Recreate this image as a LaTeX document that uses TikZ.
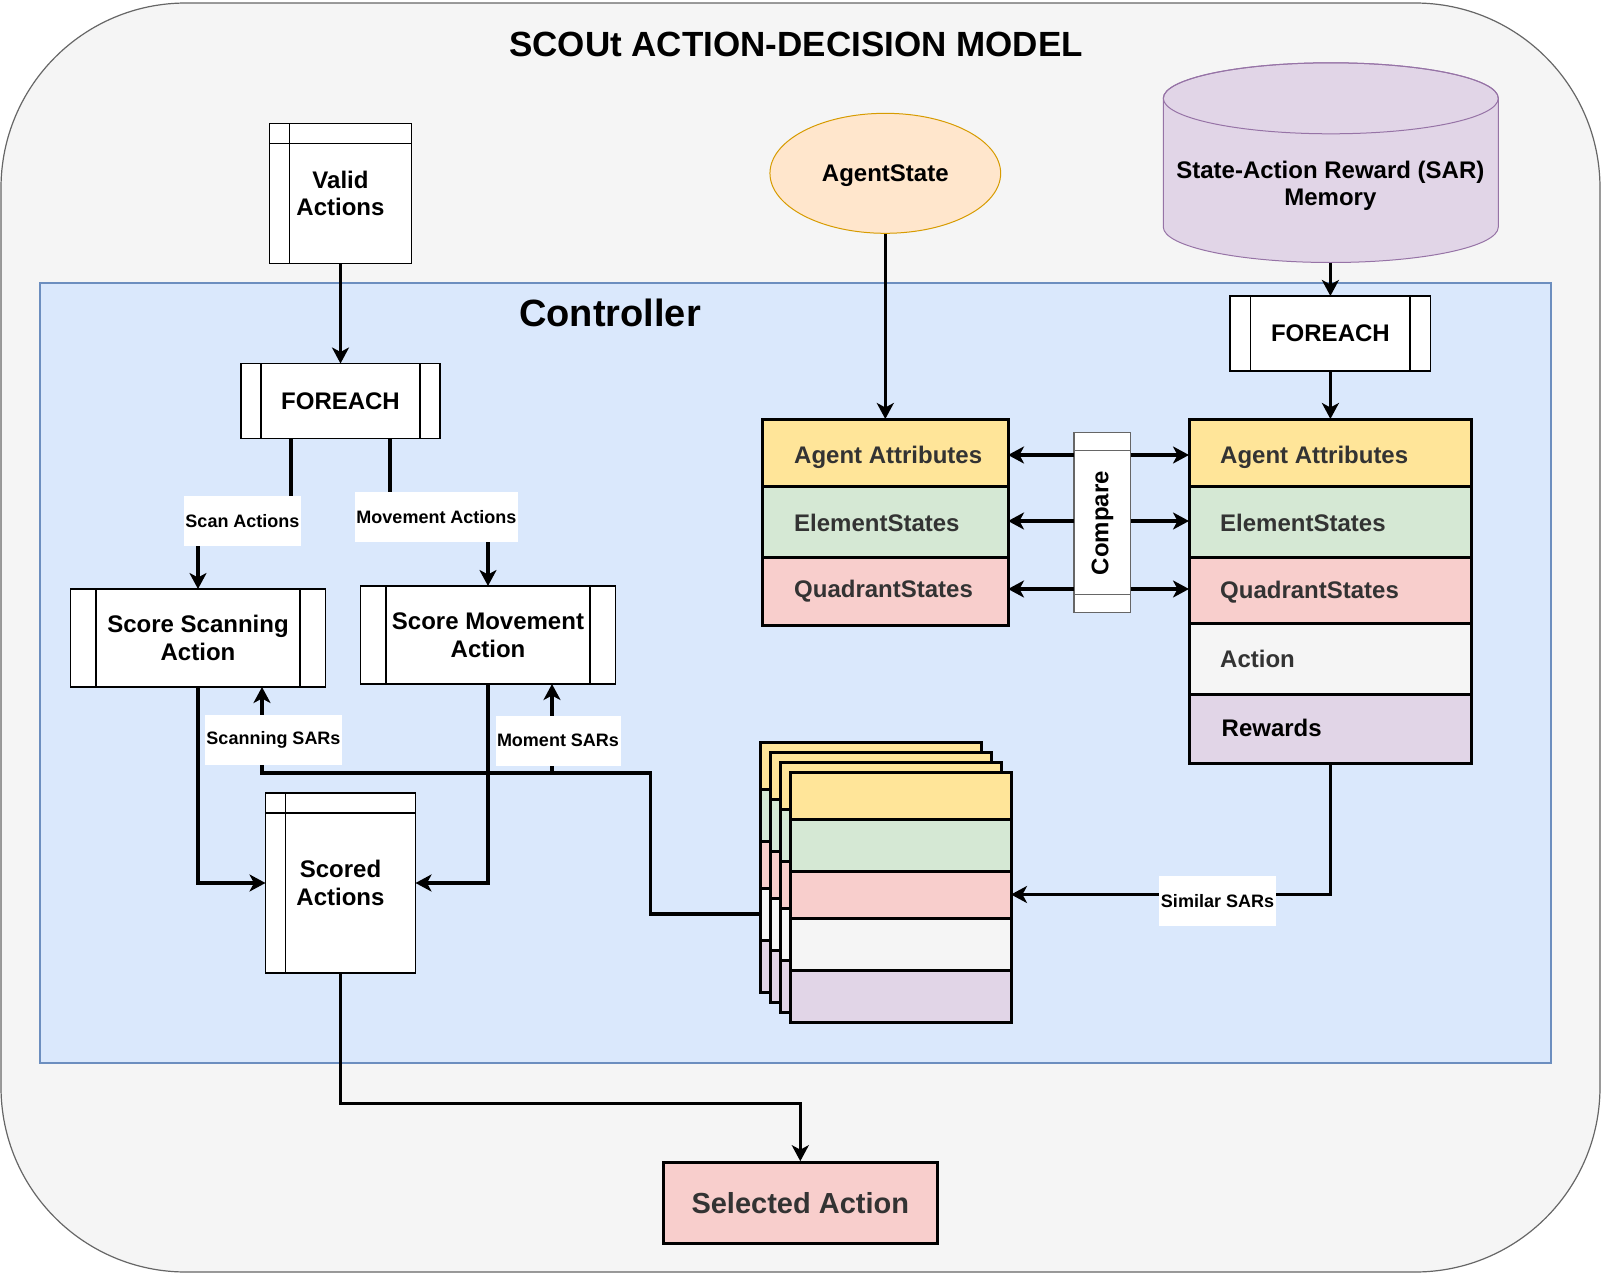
\documentclass[tikz,border=0pt]{standalone}
\usepackage{fontspec}
\setmainfont{Liberation Sans}
\usetikzlibrary{arrows.meta,calc,shapes.geometric}
\definecolor{outerfill}{HTML}{F5F5F5}
\definecolor{outerln}{HTML}{666666}
\definecolor{ctlfill}{HTML}{DAE8FC}
\definecolor{ctlln}{HTML}{6C8EBF}
\definecolor{rowy}{HTML}{FFE599}
\definecolor{rowg}{HTML}{D5E8D4}
\definecolor{rowp}{HTML}{F8CECC}
\definecolor{roww}{HTML}{F5F5F5}
\definecolor{rowv}{HTML}{E1D5E7}
\definecolor{ellfill}{HTML}{FFE6CC}
\definecolor{ellln}{HTML}{D79B00}
\definecolor{cylln}{HTML}{9673A6}
\definecolor{darktxt}{HTML}{333333}
\newcommand\mytxt{\fontsize{24pt}{27.5pt}\selectfont\bfseries}
\newcommand\mylab{\fontsize{18pt}{20pt}\selectfont\bfseries}
\begin{document}
\begin{tikzpicture}[x=1pt,y=-1pt,
  proc/.style={draw=black, line width=1.2pt, fill=white, inner sep=0pt, outer sep=0pt, align=center, font=\mytxt},
  thinln/.style={draw=black, line width=1.2pt},
  rowbox/.style={draw=black, line width=3pt, inner sep=0pt, outer sep=0pt},
  card/.style={draw=black, line width=3pt, minimum width=221pt, inner sep=0pt, outer sep=0pt},
  rowtxt/.style={font=\mytxt, text=darktxt, anchor=west, inner sep=0pt},
  arr/.style={draw=black, line width=3.4pt, -{Stealth[length=16pt,width=17pt,inset=4.5pt]}},
  lab/.style={fill=white, font=\mylab, minimum height=50pt, inner xsep=1.5pt, inner ysep=0pt}
]
\useasboundingbox (0,0) rectangle (1601,1274);
% outer container
\path[draw=outerln, fill=outerfill, line width=1.2pt, rounded corners=185pt] (1,3) rectangle (1600,1272);
\node[font=\fontsize{35pt}{40pt}\selectfont\bfseries] (title) at (796,44) {SCOUt ACTION-DECISION MODEL};
% controller
\path[draw=ctlln, fill=ctlfill, line width=1.2pt] (40,283) rectangle (1551,1063);
\node[font=\fontsize{38pt}{42pt}\selectfont\bfseries] (ctl) at (610,312.5) {Controller};

% valid actions
\node[proc, minimum width=142pt, minimum height=140pt] (va) at (340.5,193.5) {Valid\\Actions};
\draw[thinln] ($(va.north west)+(20,0)$) -- ($(va.south west)+(20,0)$);
\draw[thinln] ($(va.north west)+(0,20)$) -- ($(va.north east)+(0,20)$);

% foreach left
\node[proc, minimum width=199pt, minimum height=75pt] (fe1) at (340.5,401) {FOREACH};
\draw[thinln] ($(fe1.north west)+(20,0)$) -- ($(fe1.south west)+(20,0)$);
\draw[thinln] ($(fe1.north east)+(-20,0)$) -- ($(fe1.south east)+(-20,0)$);

% score scanning
\node[proc, minimum width=255pt, minimum height=98pt] (ssa) at (198,638) {Score Scanning\\Action};
\draw[thinln] ($(ssa.north west)+(25.5,0)$) -- ($(ssa.south west)+(25.5,0)$);
\draw[thinln] ($(ssa.north east)+(-25.5,0)$) -- ($(ssa.south east)+(-25.5,0)$);

% score movement
\node[proc, minimum width=255pt, minimum height=98pt] (sma) at (488,635) {Score Movement\\Action};
\draw[thinln] ($(sma.north west)+(25.5,0)$) -- ($(sma.south west)+(25.5,0)$);
\draw[thinln] ($(sma.north east)+(-25.5,0)$) -- ($(sma.south east)+(-25.5,0)$);

% scored actions
\node[proc, minimum width=150pt, minimum height=180pt] (sa) at (340.5,883) {Scored\\Actions};
\draw[thinln] ($(sa.north west)+(20,0)$) -- ($(sa.south west)+(20,0)$);
\draw[thinln] ($(sa.north west)+(0,20)$) -- ($(sa.north east)+(0,20)$);

% foreach right
\node[proc, minimum width=200.7pt, minimum height=75pt] (fe2) at (1330.4,333.5) {FOREACH};
\draw[thinln] ($(fe2.north west)+(20.7,0)$) -- ($(fe2.south west)+(20.7,0)$);
\draw[thinln] ($(fe2.north east)+(-20.7,0)$) -- ($(fe2.south east)+(-20.7,0)$);

% agent state
\node[ellipse, draw=ellln, fill=ellfill, line width=1pt, minimum width=230.7pt, minimum height=120pt, inner sep=0pt] (as) at (885.3,173.3) {};
\node[font=\mytxt, inner sep=0pt] (ast) at (885.3,175.3) {AgentState};

% SAR memory cylinder
\path[draw=cylln, fill=rowv, line width=1pt] (1163.3,98.3) -- (1163.3,227) arc[start angle=180, end angle=0, x radius=167.5, y radius=35.5] -- (1498.3,98.3) arc[start angle=0, end angle=-180, x radius=167.5, y radius=35.5] -- cycle;
\draw[cylln, line width=1pt] (1330.8,98.3) ellipse[x radius=167.5, y radius=35.5];
\node[font=\mytxt, align=center] (cyl) at (1330.4,186) {State-Action Reward (SAR)\\Memory};
\coordinate (cylb) at (1330.4,262.5);

% left state box
\node[rowbox, fill=rowy, minimum width=246pt, minimum height=67pt] (la1) at (885,452.5) {};
\node[rowbox, fill=rowg, minimum width=246pt, minimum height=71pt] (la2) at (885,521.5) {};
\node[rowbox, fill=rowp, minimum width=246pt, minimum height=68pt] (la3) at (885,591) {};
\node[rowtxt] (lt1) at (794,457) {Agent Attributes};
\node[rowtxt] (lt2) at (794,523) {ElementStates};
\node[rowtxt] (lt3) at (794,591) {QuadrantStates};

% right state box
\node[rowbox, fill=rowy, minimum width=282.5pt, minimum height=67pt] (ra1) at (1330.25,452.5) {};
\node[rowbox, fill=rowg, minimum width=282.5pt, minimum height=71pt] (ra2) at (1330.25,521.5) {};
\node[rowbox, fill=rowp, minimum width=282.5pt, minimum height=66pt] (ra3) at (1330.25,590) {};
\node[rowbox, fill=roww, minimum width=282.5pt, minimum height=71pt] (ra4) at (1330.25,658.5) {};
\node[rowbox, fill=rowv, minimum width=282.5pt, minimum height=69pt] (ra5) at (1330.25,728.5) {};
\node[rowtxt] (rt1) at (1220,457) {Agent Attributes};
\node[rowtxt] (rt2) at (1220,523) {ElementStates};
\node[rowtxt] (rt3) at (1220,592) {QuadrantStates};
\node[rowtxt] (rt4) at (1220,658.5) {Action};
\node[rowtxt, text=black] (rt5) at (1221.5,727.5) {Rewards};

% compare
\coordinate (y1) at (0,455);
\coordinate (y2) at (0,521);
\coordinate (y3) at (0,589);
\node[draw=outerln, line width=1.5pt, fill=white, minimum width=56.7pt, minimum height=180pt, inner sep=0pt, outer sep=0pt] (cmp) at (1102.35,522.7) {};
\draw[outerln, line width=1.5pt] ($(cmp.north west)+(0,18)$) -- ($(cmp.north east)+(0,18)$);
\draw[outerln, line width=1.5pt] ($(cmp.south west)+(0,-18)$) -- ($(cmp.south east)+(0,-18)$);
\node[rotate=90, font=\mytxt, inner sep=0pt] (cmpt) at (1102.4,523) {Compare};
\draw[arr] (cmp.west |- y1) -- (la1.east |- y1);
\draw[arr] (cmp.west |- y2) -- (la2.east |- y2);
\draw[arr] (cmp.west |- y3) -- (la3.east |- y3);
\draw[arr] (cmp.east |- y1) -- (ra1.west |- y1);
\draw[arr] (cmp.east |- y2) -- (ra2.west |- y2);
\draw[arr] (cmp.east |- y3) -- (ra3.west |- y3);

% stacked SAR cards
\foreach \kk in {0,1,2,3}{
  \foreach \nn/\cc/\aa/\hh in {1/rowy/0/47, 2/rowg/47/52, 3/rowp/99/47, 4/roww/146/52, 5/rowv/198/52}{
    \node[card, fill=\cc, minimum height=\hh pt, anchor=north west] (c\kk r\nn) at ({760+10*\kk},{742+10*\kk+\aa}) {};
  }
}

% selected action
\node[draw=black, line width=3pt, fill=rowp, minimum width=274pt, minimum height=80.6pt, inner sep=0pt, font=\fontsize{29pt}{33pt}\selectfont\bfseries, text=darktxt] (sel) at (800.3,1203) {Selected Action};

% connectors
\draw[arr] (va.south) -- (fe1.north);
\coordinate (scanpos) at (242.5,521);
\coordinate (movpos) at (436.5,517);
\draw[arr] ($(fe1.south west)+(50,0)$) |- (scanpos) -| (ssa.north);
\draw[arr] ($(fe1.south west)+(149,0)$) |- (movpos) -| (sma.north);
\draw[arr] (ssa.south) |- (sa.west);
\draw[arr] (sma.south) |- (sa.east);
\coordinate (sarturn) at (650.5,773);
\coordinate (mbranch) at (552,773);
\draw[arr] (c0r4.west) -| (sarturn) -| ($(ssa.south)+(64,0)$);
\draw[arr] (mbranch) -- ($(sma.south)+(64,0)$);
\draw[arr] (sa.south) -- ++(0,130.3) -| (sel.north);
\draw[arr] (as.south) -- (as.south |- la1.north);
\draw[arr] (cylb) -- (fe2.north);
\draw[arr] (fe2.south) -- (fe2.south |- ra1.north);
\draw[arr] (ra5.south) |- (c3r3.east);

% labels
\node[lab] (scanlab) at (scanpos) {Scan Actions};
\node[lab] (movlab) at (movpos) {Movement Actions};
\node[lab] (scansar) at (273.5,739.5) {Scanning SARs};
\node[lab] (momsar) at (558,740.5) {Moment SARs};
\node[lab] (simsar) at (1217.5,901) {Similar SARs};
\end{tikzpicture}
\end{document}
